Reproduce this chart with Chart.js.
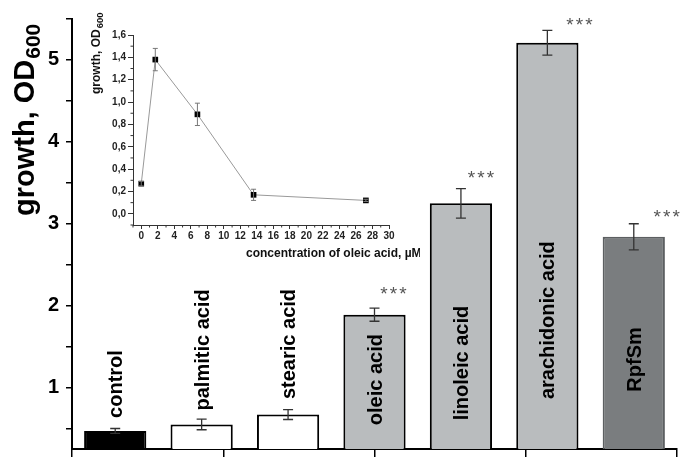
<!DOCTYPE html>
<html>
<head>
<meta charset="utf-8">
<script src="https://cdn.jsdelivr.net/npm/chart.js@4.4.0/dist/chart.umd.min.js"></script>
<style>
  html, body { margin: 0; padding: 0; background: #fff; }
  #wrap { position: relative; width: 695px; height: 468px; }
  #main { position: absolute; left: 0; top: 0; }
  #inset { position: absolute; left: 80px; top: 8px; }
</style>
</head>
<body>
<div id="wrap">
  <canvas id="main" width="695" height="468"></canvas>
  <canvas id="inset" width="340" height="262"></canvas>
</div>
<script>
// ---- main bar chart data ----
const categories = ['control', 'palmitic acid', 'stearic acid', 'oleic acid', 'linoleic acid', 'arachidonic acid', 'RpfSm'];
const growth = [0.47, 0.55, 0.67, 1.89, 3.25, 5.21, 2.84];
const growthErr = [0.03, 0.065, 0.06, 0.08, 0.18, 0.15, 0.16];
const significant = [false, false, false, true, true, true, true];
const yTicks = [0.5, 1, 1.5, 2, 2.5, 3, 3.5, 4, 4.5, 5, 5.5];
const xTicks = [0, 1, 2, 3, 4];

// ---- inset line chart data ----
const concentration = [0, 1.7, 6.8, 13.6, 27.2];
const insetGrowth = [0.27, 1.38, 0.89, 0.17, 0.12];
const insetErr = [0.02, 0.1, 0.1, 0.05, 0.01];
const insetYTicks = [0, 0.2, 0.4, 0.6, 0.8, 1.0, 1.2, 1.4, 1.6];
const insetXTicks = [0, 2, 4, 6, 8, 10, 12, 14, 16, 18, 20, 22, 24, 26, 28, 30];

// ---- styles ----
const BAR_FILL = ['#000000', '#ffffff', '#ffffff', '#b9bcbe', '#b9bcbe', '#b9bcbe', '#7a7d7f'];
const BAR_EDGE = ['#000000', '#000000', '#000000', '#000000', '#000000', '#000000', '#5c5f61'];
// where the rotated label starts, in y units
const LABEL_BASE = [0.63, 0.72, 0.86, 0.54, 0.60, 0.86, 0.95];
// star offsets in px (dx right of bar centre, dy above error bar)
const STAR_DX = [0, 0, 0, 19, 20, 32, 33];
const STAR_DY = [0, 0, 0, 19, 16, 10, 12];

const FONT = 'Arial, "Liberation Sans", sans-serif';
Chart.defaults.font.family = FONT;
Chart.defaults.color = '#000';

const setTicks = arr => scale => { scale.ticks = arr.map(v => ({ value: v })); };

// error bars + labels + stars + y title
const barExtras = {
  id: 'barExtras',
  afterDatasetsDraw(chart) {
    const ctx = chart.ctx, y = chart.scales.y;
    const meta = chart.getDatasetMeta(0);
    ctx.save();
    meta.data.forEach((bar, i) => {
      const hi = y.getPixelForValue(growth[i] + growthErr[i]);
      const lo = y.getPixelForValue(growth[i] - growthErr[i]);
      ctx.strokeStyle = '#333';
      ctx.lineWidth = 1.3;
      ctx.beginPath();
      ctx.moveTo(bar.x, hi); ctx.lineTo(bar.x, lo);
      ctx.moveTo(bar.x - 5, hi); ctx.lineTo(bar.x + 5, hi);
      ctx.moveTo(bar.x - 5, lo); ctx.lineTo(bar.x + 5, lo);
      ctx.stroke();

      // rotated category label
      ctx.save();
      ctx.translate(bar.x + 7, y.getPixelForValue(LABEL_BASE[i]));
      ctx.rotate(-Math.PI / 2);
      ctx.fillStyle = '#000';
      ctx.font = 'bold 20px ' + FONT;
      ctx.textAlign = 'left';
      ctx.textBaseline = 'alphabetic';
      ctx.fillText(categories[i], 0, 0);
      ctx.restore();

      if (significant[i]) {
        ctx.fillStyle = '#555';
        ctx.font = '19px ' + FONT;
        ctx.textAlign = 'center';
        ctx.textBaseline = 'alphabetic';
        const cx = bar.x + STAR_DX[i], cy = hi - STAR_DY[i] + 11;
        for (let k = -1; k <= 1; k++) ctx.fillText('*', cx + k * 9.5, cy);
      }
    });

    // y axis title with subscript
    ctx.save();
    ctx.translate(34, 216);
    ctx.rotate(-Math.PI / 2);
    ctx.fillStyle = '#000';
    ctx.textAlign = 'left';
    ctx.textBaseline = 'alphabetic';
    ctx.font = 'bold 29px ' + FONT;
    ctx.fillText('growth, OD', 0, 0);
    const w = ctx.measureText('growth, OD').width;
    ctx.font = 'bold 21px ' + FONT;
    ctx.fillText('600', w + 1, 6);
    ctx.restore();
    ctx.restore();
  }
};

new Chart(document.getElementById('main'), {
  type: 'bar',
  data: {
    labels: categories,
    datasets: [{
      data: growth,
      backgroundColor: BAR_FILL,
      borderColor: BAR_EDGE,
      borderWidth: 2,
      borderSkipped: false,
      barPercentage: 0.72,
      categoryPercentage: 1
    }]
  },
  options: {
    responsive: false,
    animation: false,
    layout: { padding: { left: 0, right: 18, top: 7, bottom: 0 } },
    plugins: { legend: { display: false }, tooltip: { enabled: false } },
    scales: {
      x: { display: false },
      x2: {
        type: 'linear', position: 'bottom', min: 0, max: 4, offset: false,
        afterBuildTicks: setTicks(xTicks),
        afterFit: s => { s.height = 16; },
        ticks: { display: false },
        grid: { offset: false, drawOnChartArea: false, tickLength: 8, color: '#000', lineWidth: 1.5 },
        border: { color: '#000', width: 2 }
      },
      y: {
        min: 0.25, max: 5.5,
        afterBuildTicks: setTicks(yTicks),
        afterFit: s => { s.width = 72; },
        ticks: {
          callback: v => Number.isInteger(v) ? v : '',
          font: { size: 20, weight: 'bold' }, color: '#000', padding: 7
        },
        grid: { drawOnChartArea: false, tickLength: 6, color: '#000', lineWidth: 1.5 },
        border: { color: '#000', width: 2 }
      }
    }
  },
  plugins: [barExtras]
});

// ---- inset ----
const insetExtras = {
  id: 'insetExtras',
  afterDatasetsDraw(chart) {
    const ctx = chart.ctx, x = chart.scales.x, y = chart.scales.y;
    const area = chart.chartArea;
    ctx.save();
    // error bars
    ctx.strokeStyle = '#777';
    ctx.lineWidth = 1;
    concentration.forEach((c, i) => {
      const px = x.getPixelForValue(c);
      const hi = y.getPixelForValue(insetGrowth[i] + insetErr[i]);
      const lo = y.getPixelForValue(insetGrowth[i] - insetErr[i]);
      ctx.beginPath();
      ctx.moveTo(px, hi); ctx.lineTo(px, lo);
      ctx.moveTo(px - 2.5, hi); ctx.lineTo(px + 2.5, hi);
      ctx.moveTo(px - 2.5, lo); ctx.lineTo(px + 2.5, lo);
      ctx.stroke();
    });
    // minor ticks
    ctx.strokeStyle = '#333';
    ctx.beginPath();
    for (let v = -1; v < 30; v += 2) {
      const px = x.getPixelForValue(v);
      ctx.moveTo(px, area.bottom); ctx.lineTo(px, area.bottom + 2.5);
    }
    for (let k = -1; k < 16; k += 2) {
      const py = y.getPixelForValue(k / 10);
      ctx.moveTo(area.left, py); ctx.lineTo(area.left - 2.5, py);
    }
    ctx.stroke();

    // axis titles
    ctx.fillStyle = '#111';
    ctx.textAlign = 'left';
    ctx.textBaseline = 'alphabetic';
    ctx.font = 'bold 12px ' + FONT;
    ctx.fillText('concentration of oleic acid, \u00b5M', 166, 249);

    ctx.translate(20, 86);
    ctx.rotate(-Math.PI / 2);
    ctx.font = 'bold 12px ' + FONT;
    ctx.fillText('growth, OD', 0, 0);
    const w = ctx.measureText('growth, OD').width;
    ctx.font = 'bold 9.5px ' + FONT;
    ctx.fillText('600', w + 1, 3);
    ctx.restore();
  }
};

new Chart(document.getElementById('inset'), {
  type: 'line',
  data: {
    datasets: [{
      data: concentration.map((c, i) => ({ x: c, y: insetGrowth[i] })),
      borderColor: '#999',
      borderWidth: 1,
      pointStyle: 'rect',
      pointRadius: 4,
      pointBackgroundColor: '#000',
      pointBorderColor: '#000',
      pointBorderWidth: 0,
      tension: 0
    }]
  },
  options: {
    responsive: false,
    animation: false,
    layout: { padding: { left: 0, right: 31, top: 27, bottom: 0 } },
    plugins: { legend: { display: false }, tooltip: { enabled: false } },
    scales: {
      x: {
        type: 'linear', min: -1, max: 30,
        afterBuildTicks: setTicks(insetXTicks),
        afterFit: s => { s.height = 45; },
        ticks: { font: { size: 10, weight: 'bold' }, color: '#222', padding: 1, maxRotation: 0, autoSkip: false },
        grid: { drawOnChartArea: false, tickLength: 4, color: '#333' },
        border: { color: '#333', width: 1 }
      },
      y: {
        min: -0.1, max: 1.6,
        afterBuildTicks: setTicks(insetYTicks),
        afterFit: s => { s.width = 53; },
        ticks: {
          callback: v => v.toFixed(1).replace('.', ','),
          font: { size: 10, weight: 'bold' }, color: '#222', padding: 2, autoSkip: false
        },
        grid: { drawOnChartArea: false, tickLength: 5, color: '#333' },
        border: { color: '#333', width: 1 }
      }
    }
  },
  plugins: [insetExtras]
});
</script>
</body>
</html>
